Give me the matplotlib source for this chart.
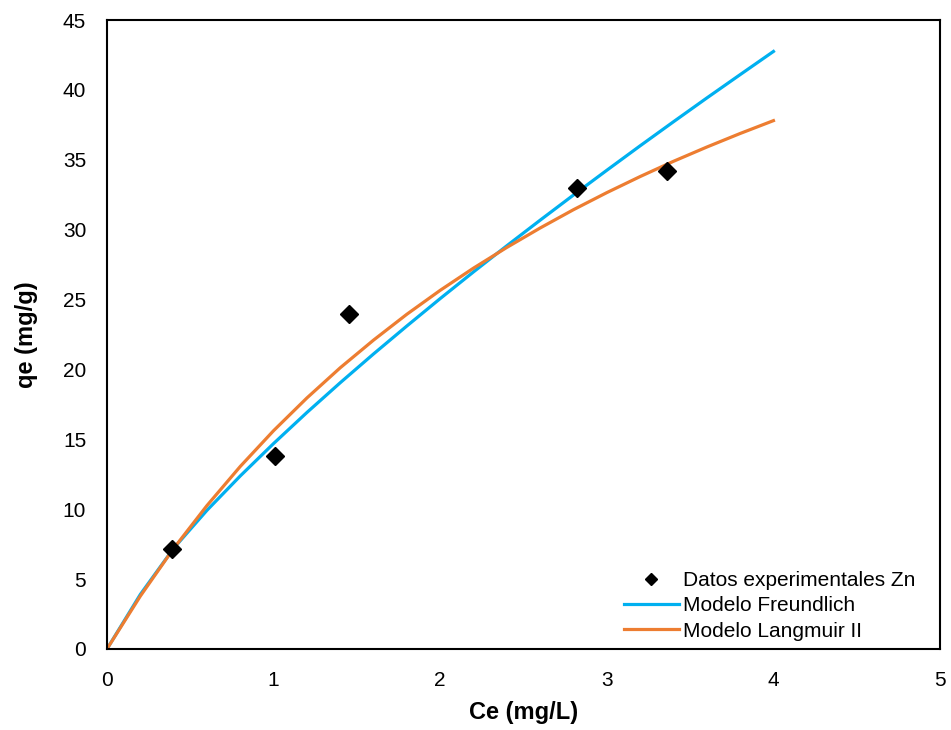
import matplotlib
matplotlib.use("Agg")
import matplotlib.pyplot as plt

plt.rcParams['font.family'] = ['Liberation Sans', 'DejaVu Sans']

# experimental points
ce_exp = [0.39, 1.01, 1.45, 2.82, 3.36]
qe_exp = [7.15, 13.8, 24.0, 33.0, 34.2]

# model curves, values
ce_model = [0.0, 0.2, 0.4, 0.6, 0.8, 1.0, 1.2, 1.4, 1.6, 1.8, 2.0,
            2.2, 2.4, 2.6, 2.8, 3.0, 3.2, 3.4, 3.6, 3.8, 4.0]
qe_freundlich = [0.0, 3.9, 7.2, 9.92, 12.38, 14.70, 16.92, 19.05, 21.11, 23.11, 25.07,
                 26.98, 28.85, 30.68, 32.48, 34.25, 36.00, 37.72, 39.42, 41.09, 42.75]
qe_langmuir = [0.0, 3.78, 7.19, 10.26, 13.06, 15.62, 17.96, 20.12, 22.10, 23.95, 25.66,
               27.25, 28.73, 30.12, 31.43, 32.65, 33.80, 34.89, 35.91, 36.88, 37.80]

labels = ["Datos experimentales Zn", "Modelo Freundlich", "Modelo Langmuir II"]

fig = plt.figure(figsize=(9.51, 7.30), dpi=100)
ax = fig.add_axes([0.1125, 0.111, 0.876, 0.8616])

ax.plot(ce_exp, qe_exp, linestyle='none', marker='D', markersize=9,
        color='black', label=labels[0], zorder=3)
ax.plot(ce_model, qe_freundlich, color='#00b0f0', lw=2.3, label=labels[1], zorder=2)
ax.plot(ce_model, qe_langmuir, color='#ed7d31', lw=2.3, label=labels[2], zorder=2)

ax.set_xlim(0, 5)
ax.set_ylim(0, 45)
ax.set_xticks(range(0, 6))
ax.set_yticks(range(0, 50, 5))
ax.tick_params(length=0, labelsize=15)
ax.tick_params(axis='x', pad=16)
ax.tick_params(axis='y', pad=15)
for s in ax.spines.values():
    s.set_linewidth(1.5)

ax.set_xlabel("Ce (mg/L)", fontsize=17, fontweight='bold', labelpad=8)
ax.set_ylabel("qe (mg/g)", fontsize=17, fontweight='bold', labelpad=18)

ax.legend(loc='lower right', bbox_to_anchor=(0.980, 0.0), frameon=False,
          fontsize=15, handlelength=2.6, handletextpad=0.2, labelspacing=0.3,
          markerscale=0.68, borderaxespad=0.0)

fig.savefig("out.png", dpi=100)
